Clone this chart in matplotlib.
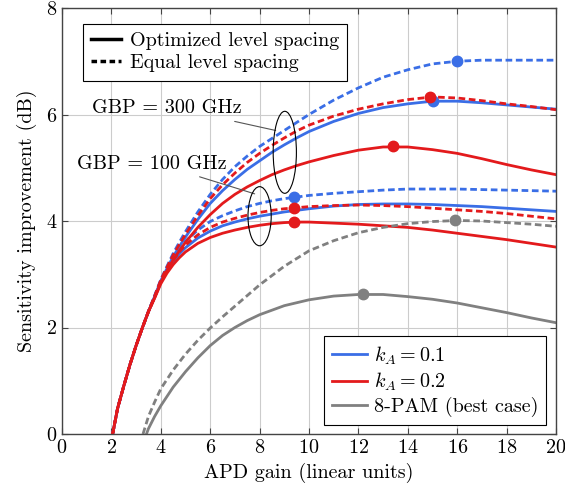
import numpy as np
import matplotlib
matplotlib.use('Agg')
from matplotlib import pyplot as plt
from matplotlib.patches import Ellipse
from matplotlib.lines import Line2D

plt.rcParams['font.family'] = 'serif'
plt.rcParams['font.serif'] = ['cmr10']
plt.rcParams['mathtext.fontset'] = 'cm'
plt.rcParams['axes.unicode_minus'] = False
plt.rcParams['axes.formatter.use_mathtext'] = True

FS = 14.5

# APD gain grid for the k_A curves
gain = [2.05, 2.25, 2.5, 2.75, 3, 3.25, 3.5, 3.75, 4, 4.25, 4.5, 4.75, 5, 5.5, 6, 6.5, 7, 7.5,
        8, 8.5, 9, 9.5, 10, 11, 12, 13, 14, 15, 16, 17, 18, 19, 20]
start = [0, 0.48, 0.9, 1.3, 1.66, 1.99, 2.3]

# GBP = 300 GHz
bd300 = start + [2.60, 2.90, 3.15, 3.39, 3.60, 3.80, 4.17, 4.50, 4.78, 5.02, 5.22, 5.40, 5.55, 5.70, 5.85, 6.00,
                 6.27, 6.50, 6.70, 6.84, 6.95, 7.00, 7.02, 7.02, 7.02, 7.02]
rd300 = start + [2.59, 2.89, 3.13, 3.36, 3.56, 3.75, 4.10, 4.42, 4.68, 4.90, 5.10, 5.27, 5.42, 5.56, 5.69, 5.80,
                 5.97, 6.10, 6.20, 6.28, 6.33, 6.31, 6.26, 6.20, 6.15, 6.09]
bs300 = start + [2.58, 2.88, 3.11, 3.33, 3.52, 3.70, 4.03, 4.33, 4.57, 4.78, 4.97, 5.13, 5.29, 5.43, 5.56, 5.68,
                 5.87, 6.02, 6.13, 6.20, 6.25, 6.25, 6.22, 6.18, 6.14, 6.10]
rs300 = start + [2.56, 2.85, 3.07, 3.27, 3.44, 3.60, 3.88, 4.12, 4.33, 4.50, 4.64, 4.76, 4.87, 4.96, 5.04, 5.11,
                 5.23, 5.33, 5.39, 5.39, 5.34, 5.27, 5.17, 5.06, 4.96, 4.87]
# GBP = 100 GHz
bd100 = start + [2.58, 2.87, 3.10, 3.30, 3.48, 3.62, 3.83, 3.99, 4.10, 4.19, 4.27, 4.33, 4.38, 4.42, 4.45, 4.48,
                 4.52, 4.55, 4.58, 4.60, 4.60, 4.60, 4.59, 4.58, 4.57, 4.56]
rd100 = start + [2.57, 2.86, 3.08, 3.26, 3.42, 3.55, 3.74, 3.88, 3.98, 4.05, 4.11, 4.16, 4.20, 4.23, 4.25, 4.27,
                 4.29, 4.30, 4.29, 4.27, 4.24, 4.21, 4.18, 4.14, 4.09, 4.04]
bs100 = start + [2.57, 2.85, 3.06, 3.23, 3.38, 3.50, 3.68, 3.81, 3.91, 3.98, 4.04, 4.09, 4.13, 4.17, 4.20, 4.23,
                 4.28, 4.31, 4.32, 4.32, 4.31, 4.29, 4.27, 4.24, 4.21, 4.18]
rs100 = start + [2.55, 2.82, 3.02, 3.18, 3.31, 3.42, 3.58, 3.69, 3.77, 3.83, 3.88, 3.92, 3.95, 3.97, 3.98, 3.98,
                 3.96, 3.94, 3.91, 3.88, 3.83, 3.77, 3.71, 3.65, 3.58, 3.51]

# 8-PAM (best case)
gain_pam_eq = [3.28, 3.5, 3.75, 4, 4.5, 5, 5.5, 6, 6.5, 7, 7.5, 8, 9, 10, 11, 12, 13, 14, 15, 16, 17, 18, 19, 20]
pam_eq = [0, 0.33, 0.6, 0.85, 1.2, 1.5, 1.76, 1.99, 2.2, 2.4, 2.6, 2.8, 3.15, 3.44, 3.63, 3.78, 3.88, 3.95, 3.99,
          4.01, 4.0, 3.97, 3.94, 3.9]
gain_pam_opt = [3.42, 3.5, 3.75, 4, 4.5, 5, 5.5, 6, 6.5, 7, 7.5, 8, 9, 10, 11, 12, 13, 14, 15, 16, 17, 18, 19, 20]
pam_opt = [0, 0.1, 0.33, 0.53, 0.88, 1.17, 1.43, 1.66, 1.85, 2.0, 2.13, 2.24, 2.41, 2.52, 2.59, 2.62, 2.62, 2.58,
           2.53, 2.46, 2.37, 2.28, 2.18, 2.09]

# optimum points (gain, value)
opt_blue = [(16, 7.0), (15, 6.25), (9.4, 4.45)]
opt_red = [(14.9, 6.33), (13.4, 5.4), (9.4, 4.24), (9.4, 3.98)]
opt_grey = [(12.2, 2.62), (15.9, 4.01)]

blue = '#3a6ee6'
red = '#e31a1c'
grey = '#808080'
dash = (2.4, 1.3)
lw = 2.0
ms = 7.5

fig = plt.figure(figsize=(5.65, 4.93), dpi=100)
ax = fig.add_axes([62/565, 59/493, 494/565, 426/493])

for y in [bd300, bd100]:
    ax.plot(gain, y, color=blue, lw=lw, dashes=dash)
for y in [bs300, bs100]:
    ax.plot(gain, y, color=blue, lw=lw)
for p in opt_blue:
    ax.plot(p[0], p[1], 'o', color=blue, ms=ms)
for y in [rd300, rd100]:
    ax.plot(gain, y, color=red, lw=lw, dashes=dash)
for y in [rs300, rs100]:
    ax.plot(gain, y, color=red, lw=lw)
for p in opt_red:
    ax.plot(p[0], p[1], 'o', color=red, ms=ms)
ax.plot(gain_pam_eq, pam_eq, color=grey, lw=lw, dashes=dash)
ax.plot(gain_pam_opt, pam_opt, color=grey, lw=lw)
for p in opt_grey:
    ax.plot(p[0], p[1], 'o', color=grey, ms=ms)

# GBP annotations
ax.add_patch(Ellipse((9.02, 5.29), 0.94, 1.54, fill=False, ec='black', lw=0.8, zorder=5))
ax.add_patch(Ellipse((8.0, 4.09), 0.94, 1.11, fill=False, ec='black', lw=0.8, zorder=5))
ax.annotate('', xy=(8.65, 5.70), xytext=(6.99, 5.87),
            arrowprops=dict(arrowstyle='-', color='#555555', lw=0.8, shrinkA=0, shrinkB=0))
ax.annotate('', xy=(7.80, 4.51), xytext=(5.57, 4.83),
            arrowprops=dict(arrowstyle='-', color='#555555', lw=0.8, shrinkA=0, shrinkB=0))
ax.text(4.26, 6.13, 'GBP = 300 GHz', ha='center', va='center', fontsize=FS)
ax.text(3.65, 5.07, 'GBP = 100 GHz', ha='center', va='center', fontsize=FS)

ax.set_xlim(0, 20)
ax.set_ylim(0, 8)
ax.set_xticks(np.arange(0, 21, 2))
ax.set_yticks(np.arange(0, 9, 2))
ax.grid(True, color='#cccccc', lw=0.8)
ax.set_axisbelow(True)
ax.tick_params(direction='in', top=True, right=True, length=4, labelsize=FS, color='#444444')
for s in ax.spines.values():
    s.set_color('#444444')
    s.set_linewidth(1.0)
ax.set_xlabel('APD gain (linear units)', fontsize=FS)
ax.set_ylabel('Sensitivity improvement (dB)', fontsize=FS, labelpad=6)

style_handles = [Line2D([], [], color='black', lw=2.5),
                 Line2D([], [], color='black', lw=2.5, dashes=(1.6, 1.0))]
leg1 = ax.legend(style_handles, ['Optimized level spacing', 'Equal level spacing'],
                 loc='upper left', bbox_to_anchor=(0.042, 0.962), borderaxespad=0,
                 fontsize=FS, fancybox=False, framealpha=1, edgecolor='black',
                 handlelength=1.5, handletextpad=0.45, labelspacing=0.2, borderpad=0.4)
leg1.get_frame().set_linewidth(0.8)
ax.add_artist(leg1)

color_handles = [Line2D([], [], color=blue, lw=lw),
                 Line2D([], [], color=red, lw=lw),
                 Line2D([], [], color=grey, lw=lw)]
leg2 = ax.legend(color_handles, ['$k_A = 0.1$', '$k_A = 0.2$', '8-PAM (best case)'],
                 loc='lower right', bbox_to_anchor=(0.98, 0.02), borderaxespad=0,
                 fontsize=FS, fancybox=False, framealpha=1, edgecolor='black',
                 handlelength=1.7, handletextpad=0.35, labelspacing=0.2, borderpad=0.4)
leg2.get_frame().set_linewidth(0.8)

fig.savefig('out.png', dpi=100)
